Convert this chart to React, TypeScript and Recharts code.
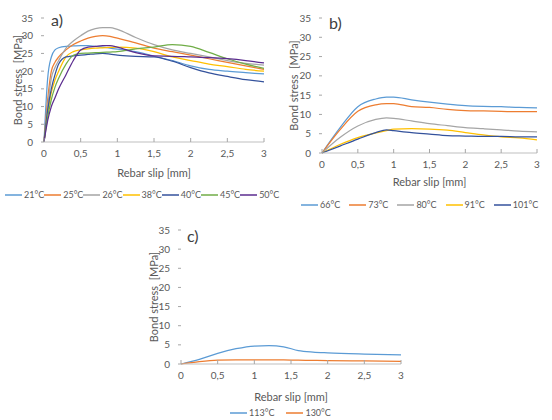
import React from 'react';
import { LineChart, Line, XAxis, YAxis, Label } from 'recharts';

// Rebar slip positions [mm] and bond stress [MPa] per temperature
const slipA = [0, 0.05, 0.1, 0.15, 0.2, 0.3, 0.4, 0.5, 0.6, 0.7, 0.8, 0.9, 1.0, 1.25, 1.5, 1.75, 2.0, 2.25, 2.5, 2.75, 3.0];
const stress21 = [0, 18, 24, 26, 26.6, 27, 27.1, 27.2, 27.2, 27, 26.8, 26.5, 26.2, 25.5, 24.2, 23, 21.5, 20.5, 20, 19.6, 19.2];
const stress25 = [0, 12, 20, 22.5, 24, 26, 27.5, 28.5, 29.3, 29.8, 30, 29.8, 29.3, 28, 26.5, 25.5, 24.5, 23.5, 22.5, 21.5, 20.5];
const stress26 = [0, 10, 18, 21, 23, 26.5, 28.5, 30, 31.3, 32, 32.3, 32.3, 31.8, 29.5, 27.5, 26, 25, 24, 23, 22.2, 21.7];
const stress38 = [0, 8, 14, 17.5, 20, 24, 25.5, 26, 26.3, 26.5, 26.6, 26.7, 26.8, 26.5, 25.5, 24, 23, 22, 21.3, 20.5, 20];
const stress40 = [0, 9, 15, 19, 22, 24, 24.3, 24.5, 24.7, 24.9, 25, 24.8, 24.5, 24.2, 24, 22.8, 21, 19.5, 18.5, 17.6, 17];
const stress45 = [0, 7, 12, 15.5, 18, 22, 24.5, 25, 25.1, 25.2, 25.3, 25.4, 25.5, 26.3, 26.8, 27.5, 27, 25.3, 23.5, 22, 20.8];
const stress50 = [0, 6, 10, 12.5, 15, 19, 23, 26, 26.8, 27, 27.2, 27.2, 26.8, 25.2, 24.3, 24.2, 24, 23.8, 23.5, 23, 22.3];

const slipB = [0, 0.25, 0.5, 0.75, 0.9, 1.0, 1.25, 1.5, 1.75, 2.0, 2.25, 2.5, 2.75, 3.0];
const stress66 = [0, 6.5, 12, 14, 14.5, 14.5, 13.8, 13.2, 12.7, 12.3, 12.1, 12, 11.8, 11.7];
const stress73 = [0, 6, 10.8, 12.5, 12.8, 12.8, 12, 11.8, 11.3, 11, 10.9, 10.8, 10.7, 10.7];
const stress80 = [0, 4, 7, 8.7, 9.1, 9, 8.3, 7.6, 7.1, 6.6, 6.3, 6, 5.7, 5.5];
const stress91 = [0, 2.2, 4, 5.2, 5.8, 6.2, 6.3, 6.2, 5.9, 5.3, 4.7, 4.2, 3.9, 3.4];
const stress101 = [0, 1.8, 3.6, 5.3, 6, 5.8, 5.3, 4.9, 4.5, 4.4, 4.3, 4.3, 4.2, 4.2];

const slipC = [0, 0.25, 0.5, 0.75, 1.0, 1.2, 1.4, 1.6, 1.8, 2.0, 2.5, 3.0];
const stress113 = [0, 1.2, 2.8, 4.0, 4.7, 4.8, 4.5, 3.5, 3.1, 2.9, 2.6, 2.4];
const stress130 = [0, 0.6, 1.0, 1.1, 1.1, 1.1, 1.05, 1.0, 0.95, 0.9, 0.8, 0.7];

const xTicks = [0, 0.5, 1, 1.5, 2, 2.5, 3];
const yTicks = [0, 5, 10, 15, 20, 25, 30, 35];

type Series = { name: string; values: number[]; color: string };

const seriesA: Series[] = [
  { name: '21°C', values: stress21, color: '#5B9BD5' },
  { name: '25°C', values: stress25, color: '#ED7D31' },
  { name: '26°C', values: stress26, color: '#A5A5A5' },
  { name: '38°C', values: stress38, color: '#FFC000' },
  { name: '40°C', values: stress40, color: '#34529C' },
  { name: '45°C', values: stress45, color: '#70AD47' },
  { name: '50°C', values: stress50, color: '#5B2C8F' },
];
const seriesB: Series[] = [
  { name: '66°C', values: stress66, color: '#5B9BD5' },
  { name: '73°C', values: stress73, color: '#ED7D31' },
  { name: '80°C', values: stress80, color: '#A5A5A5' },
  { name: '91°C', values: stress91, color: '#FFC000' },
  { name: '101°C', values: stress101, color: '#34529C' },
];
const seriesC: Series[] = [
  { name: '113°C', values: stress113, color: '#5B9BD5' },
  { name: '130°C', values: stress130, color: '#ED7D31' },
];

const FONT = 'Lato, "Open Sans", sans-serif';
const TXT = '#595959';

const buildRows = (slip: number[], series: Series[]) =>
  slip.map((s, i) => {
    const row: Record<string, number> = { slip: s };
    series.forEach((sr) => (row[sr.name] = sr.values[i]));
    return row;
  });

const fmt = (v: number) => String(v).replace('.', ',');

const XTick = (props: any) => {
  const { x, y, payload } = props;
  return (
    <g>
      <line x1={x} x2={x} y1={y} y2={y - 4} stroke="#a6a6a6" />
      <text x={x} y={y + 15} textAnchor="middle" fontSize={10} fill={TXT} fontFamily={FONT}>
        {fmt(payload.value)}
      </text>
    </g>
  );
};

type PanelProps = {
  slip: number[];
  series: Series[];
  width: number;
  height: number;
  top: number;
  right: number;
  yWidth: number;
  xHeight: number;
  xLabelDy: number;
  yLabelX: number;
};

const Panel = ({ slip, series, width, height, top, right, yWidth, xHeight, xLabelDy, yLabelX }: PanelProps) => {
  const data = buildRows(slip, series);
  return (
    <LineChart width={width} height={height} data={data} margin={{ top, right, bottom: 0, left: 0 }}>
      <XAxis
        dataKey="slip"
        type="number"
        domain={[0, 3]}
        ticks={xTicks}
        tick={<XTick />}
        tickSize={0}
        tickMargin={0}
        tickLine={false}
        height={xHeight}
        axisLine={{ stroke: '#bfbfbf' }}
      >
        <Label
          content={({ viewBox }: any) => (
            <text
              x={viewBox.x + viewBox.width / 2}
              y={viewBox.y + xLabelDy}
              textAnchor="middle"
              fontSize={11}
              fill={TXT}
              fontFamily={FONT}
            >
              Rebar slip [mm]
            </text>
          )}
        />
      </XAxis>
      <YAxis
        type="number"
        domain={[0, 35]}
        ticks={yTicks}
        width={yWidth}
        axisLine={false}
        tickSize={3}
        tickMargin={8}
        tickLine={{ stroke: '#a6a6a6' }}
        tick={{ fontSize: 10, fill: TXT, fontFamily: FONT }}
      >
        <Label
          content={({ viewBox }: any) => {
            const cx = yLabelX;
            const cy = viewBox.y + viewBox.height / 2;
            return (
              <text
                x={cx}
                y={cy}
                transform={`rotate(-90 ${cx} ${cy})`}
                textAnchor="middle"
                dominantBaseline="central"
                fontSize={11}
                fill={TXT}
                fontFamily={FONT}
                style={{ whiteSpace: 'pre' }}
              >
                Bond stress  [MPa]
              </text>
            );
          }}
        />
      </YAxis>
      {series.map((s) => (
        <Line
          key={s.name}
          dataKey={s.name}
          type="monotone"
          stroke={s.color}
          strokeWidth={1.25}
          dot={false}
          isAnimationActive={false}
        />
      ))}
    </LineChart>
  );
};

const Legend = ({ series, left, top, width, gap }: { series: Series[]; left: number; top: number; width?: number; gap?: number }) => (
  <div
    style={{
      position: 'absolute',
      left,
      top,
      width,
      display: 'flex',
      justifyContent: width ? 'space-between' : 'flex-start',
      gap: gap ?? 0,
      fontFamily: FONT,
      fontSize: 9,
      color: TXT,
      lineHeight: '10px',
      whiteSpace: 'nowrap',
    }}
  >
    {series.map((s) => (
      <div key={s.name} style={{ display: 'flex', alignItems: 'center' }}>
        <svg width={17} height={6} style={{ marginRight: 2, display: 'block' }}>
          <line x1={0} x2={17} y1={3} y2={3} stroke={s.color} strokeWidth={1.5} />
        </svg>
        <span>{s.name}</span>
      </div>
    ))}
  </div>
);

const Title = ({ text, left, top }: { text: string; left: number; top: number }) => (
  <div style={{ position: 'absolute', left, top, fontFamily: FONT, fontSize: 16, color: '#404040', lineHeight: '18px' }}>
    {text}
  </div>
);

export default function App() {
  return (
    <div style={{ position: 'absolute', left: 0, top: 0, width: 552, height: 420, background: '#fff', overflow: 'hidden' }}>
      <div style={{ position: 'absolute', left: 0, top: 0 }}>
        <Panel slip={slipA} series={seriesA} width={280} height={185} top={18} right={16} yWidth={44} xHeight={43} xLabelDy={35} yLabelX={17} />
      </div>
      <Title text="a)" left={51} top={11} />
      <Legend series={seriesA} left={5} top={190} width={270} />

      <div style={{ position: 'absolute', left: 280, top: 0 }}>
        <Panel slip={slipB} series={seriesB} width={272} height={195} top={18} right={15} yWidth={42} xHeight={42} xLabelDy={33} yLabelX={13} />
      </div>
      <Title text="b)" left={329} top={14} />
      <Legend series={seriesB} left={301} top={200} gap={9} />

      <div style={{ position: 'absolute', left: 140, top: 210 }}>
        <Panel slip={slipC} series={seriesC} width={280} height={200} top={20} right={19} yWidth={41} xHeight={46} xLabelDy={37} yLabelX={13} />
      </div>
      <Title text="c)" left={187} top={227} />
      <Legend series={seriesC} left={230} top={408} gap={12} />
    </div>
  );
}
